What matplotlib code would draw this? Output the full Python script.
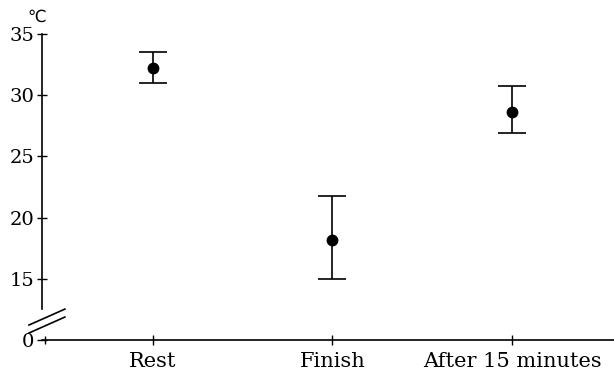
import matplotlib
matplotlib.use('Agg')
import matplotlib.pyplot as plt

plt.rcParams['font.family'] = ['DejaVu Serif']

# skin temperature
groups = ['Rest', 'Finish', 'After 15 minutes']
means = [32.2, 18.2, 28.6]
err_low = [1.2, 3.2, 1.7]
err_high = [1.3, 3.6, 2.15]

# axis is broken: the "0" line sits where 10 would be
yticks = [10, 15, 20, 25, 30, 35]
ytick_labels = ['0', '15', '20', '25', '30', '35']

fig = plt.figure(figsize=(6.14, 3.76), dpi=100)
ax = fig.add_axes([0.0684, 0.0957, 0.9316, 0.8139])

x = list(range(len(groups)))
ax.errorbar(x, means, yerr=[err_low, err_high], fmt='o', color='black',
            markersize=7.5, capsize=10, elinewidth=1.2, capthick=1.2)

ax.set_xlim(-0.618, 2.568)
ax.set_ylim(10, 35)
ax.set_xticks(x)
ax.set_xticklabels(groups, fontsize=15)
ax.set_xticks([-0.6], minor=True)
ax.set_yticks(yticks)
ax.set_yticklabels(ytick_labels, fontsize=14)
ax.tick_params(direction='inout', length=7, width=1, pad=3)
ax.tick_params(axis='x', which='both', pad=5)
ax.tick_params(axis='x', which='minor', direction='inout', length=6, width=1)
ax.tick_params(axis='y', which='major', pad=2)

ax.spines['top'].set_visible(False)
ax.spines['right'].set_visible(False)
ax.spines['left'].set_bounds(12.5, 35)
ax.spines['left'].set_linewidth(1.2)
ax.spines['bottom'].set_linewidth(1.2)

# break marks
for y0, y1 in [(0.049, 0.101), (0.023, 0.075)]:
    ax.plot([-0.0227, 0.040], [y0, y1], transform=ax.transAxes,
            color='black', lw=1.2, clip_on=False)

ax.text(-0.01, 1.055, '℃', transform=ax.transAxes, ha='center', va='center',
        fontsize=12, family='DejaVu Sans')

fig.savefig('out.png', dpi=100)
